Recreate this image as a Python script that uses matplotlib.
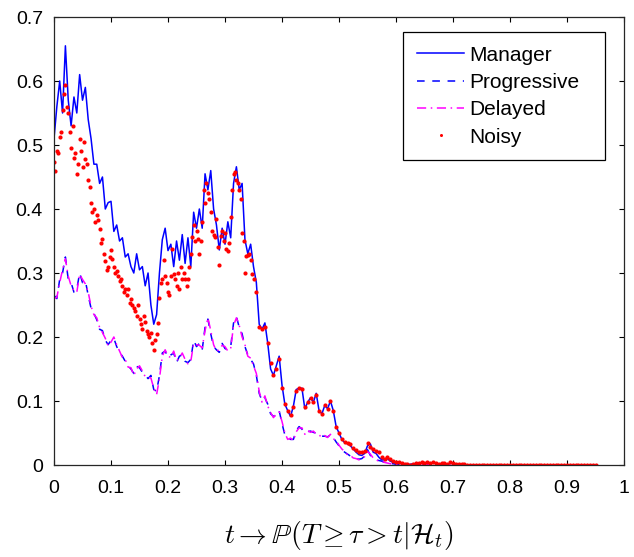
import numpy as np
import matplotlib
matplotlib.use("Agg")
import matplotlib.pyplot as plt

plt.rcParams['font.family'] = ['Liberation Sans', 'DejaVu Sans']
plt.rcParams['mathtext.fontset'] = 'cm'

# ---- data (time step 0.005 for line series) ----
dt_line = 0.005
manager = [0.51, 0.56, 0.60, 0.55, 0.655, 0.57, 0.53, 0.575, 0.55, 0.61,
           0.57, 0.59, 0.54, 0.51, 0.47, 0.47, 0.44, 0.45, 0.40, 0.41,
           0.412, 0.365, 0.375, 0.35, 0.355, 0.325, 0.33, 0.31, 0.30, 0.33,
           0.305, 0.31, 0.28, 0.30, 0.25, 0.22, 0.235, 0.30, 0.352, 0.37,
           0.335, 0.345, 0.31, 0.35, 0.32, 0.36, 0.315, 0.355, 0.31, 0.395,
           0.37, 0.40, 0.37, 0.455, 0.43, 0.46, 0.40, 0.375, 0.336, 0.37,
           0.345, 0.38, 0.355, 0.44, 0.466, 0.43, 0.44, 0.352, 0.33, 0.345,
           0.31, 0.285, 0.22, 0.212, 0.222, 0.19, 0.15, 0.14, 0.155, 0.17,
           0.125, 0.095, 0.085, 0.076, 0.092, 0.118, 0.12, 0.12, 0.088, 0.098,
           0.105, 0.098, 0.112, 0.085, 0.08, 0.093, 0.088, 0.10, 0.085, 0.06,
           0.05, 0.04, 0.035, 0.033, 0.03, 0.025, 0.02, 0.016, 0.015, 0.018,
           0.03, 0.033, 0.02, 0.018, 0.012, 0.008, 0.008, 0.01, 0.006, 0.004,
           0.003,
           0.003, 0.002, 0.002, 0.001, 0.001, 0.002, 0.002, 0.003, 0.003, 0.002,
           0.003, 0.002, 0.004, 0.002, 0.002, 0.002, 0.002, 0.001, 0.003, 0.002,
           0.001, 0.001, 0.001, 0.0, 0.0, 0.0, 0.0, 0.0, 0.0, 0.0,
           0.0, 0.0, 0.0, 0.0, 0.0, 0.0, 0.0, 0.0, 0.0, 0.0,
           0.0, 0.0, 0.0, 0.0, 0.0, 0.0, 0.0, 0.0, 0.0, 0.0,
           0.0, 0.0, 0.0, 0.0, 0.0, 0.0, 0.0, 0.0, 0.0, 0.0,
           0.0, 0.0, 0.0, 0.0, 0.0, 0.0, 0.0, 0.0, 0.0, 0.0]

progressive = [0.265, 0.26, 0.29, 0.30, 0.325, 0.29, 0.285, 0.27, 0.275, 0.30,
               0.285, 0.288, 0.265, 0.245, 0.237, 0.227, 0.212, 0.21, 0.195, 0.188,
               0.195, 0.198, 0.185, 0.176, 0.17, 0.162, 0.155, 0.15, 0.143, 0.154,
               0.152, 0.145, 0.14, 0.135, 0.14, 0.118, 0.115, 0.14, 0.175, 0.178,
               0.168, 0.172, 0.175, 0.16, 0.17, 0.172, 0.162, 0.16, 0.165, 0.195,
               0.185, 0.19, 0.18, 0.215, 0.228, 0.205, 0.185, 0.18, 0.176, 0.19,
               0.182, 0.18, 0.185, 0.222, 0.232, 0.215, 0.205, 0.185, 0.172, 0.165,
               0.158, 0.14, 0.112, 0.10, 0.105, 0.095, 0.08, 0.076, 0.077, 0.085,
               0.065, 0.047, 0.042, 0.04, 0.04, 0.054, 0.06, 0.056, 0.05, 0.052,
               0.053, 0.051, 0.05, 0.046, 0.045, 0.045, 0.044, 0.047, 0.043, 0.036,
               0.03, 0.024, 0.02, 0.017, 0.014, 0.012, 0.01, 0.009, 0.01, 0.014,
               0.024, 0.015, 0.01, 0.008, 0.007, 0.006, 0.004, 0.003, 0.002, 0.002,
               0.001,
               0.001, 0.001, 0.001, 0.0, 0.0, 0.001, 0.001, 0.001, 0.001, 0.001,
               0.001, 0.001, 0.002, 0.001, 0.001, 0.001, 0.001, 0.0, 0.001, 0.001,
               0.0, 0.0, 0.0, 0.0, 0.0, 0.0, 0.0, 0.0, 0.0, 0.0,
               0.0, 0.0, 0.0, 0.0, 0.0, 0.0, 0.0, 0.0, 0.0, 0.0,
               0.0, 0.0, 0.0, 0.0, 0.0, 0.0, 0.0, 0.0, 0.0, 0.0,
               0.0, 0.0, 0.0, 0.0, 0.0, 0.0, 0.0, 0.0, 0.0, 0.0,
               0.0, 0.0, 0.0, 0.0, 0.0, 0.0, 0.0, 0.0, 0.0, 0.0]

delayed = [0.26, 0.262, 0.285, 0.305, 0.322, 0.295, 0.28, 0.272, 0.27, 0.298,
           0.29, 0.283, 0.27, 0.248, 0.235, 0.23, 0.215, 0.207, 0.198, 0.186,
           0.192, 0.2, 0.188, 0.178, 0.168, 0.165, 0.153, 0.152, 0.14, 0.15,
           0.155, 0.147, 0.138, 0.137, 0.136, 0.12, 0.11, 0.135, 0.17, 0.18,
           0.17, 0.168, 0.178, 0.163, 0.167, 0.175, 0.165, 0.158, 0.162, 0.19,
           0.188, 0.187, 0.183, 0.21, 0.23, 0.21, 0.188, 0.178, 0.18, 0.187,
           0.185, 0.178, 0.182, 0.218, 0.23, 0.218, 0.2, 0.188, 0.17, 0.167,
           0.155, 0.143, 0.115, 0.098, 0.108, 0.092, 0.082, 0.074, 0.08, 0.083,
           0.068, 0.05, 0.04, 0.042, 0.038, 0.052, 0.058, 0.058, 0.048, 0.054,
           0.051, 0.053, 0.048, 0.047, 0.043, 0.046, 0.043, 0.048, 0.041, 0.038,
           0.031, 0.025, 0.021, 0.016, 0.015, 0.011, 0.01, 0.008, 0.011, 0.013,
           0.021, 0.017, 0.011, 0.008, 0.006, 0.006, 0.004, 0.003, 0.002, 0.001,
           0.001,
           0.001, 0.001, 0.0, 0.0, 0.0, 0.001, 0.001, 0.001, 0.001, 0.001,
           0.001, 0.001, 0.001, 0.001, 0.001, 0.001, 0.001, 0.0, 0.001, 0.001,
           0.0, 0.0, 0.0, 0.0, 0.0, 0.0, 0.0, 0.0, 0.0, 0.0,
           0.0, 0.0, 0.0, 0.0, 0.0, 0.0, 0.0, 0.0, 0.0, 0.0,
           0.0, 0.0, 0.0, 0.0, 0.0, 0.0, 0.0, 0.0, 0.0, 0.0,
           0.0, 0.0, 0.0, 0.0, 0.0, 0.0, 0.0, 0.0, 0.0, 0.0,
           0.0, 0.0, 0.0, 0.0, 0.0, 0.0, 0.0, 0.0, 0.0, 0.0]

# Noisy observations: step 0.0025 from 0 to 0.35, then step 0.005 from 0.355
dt_noisy_early = 0.0025
noisy_early = [0.474, 0.46, 0.49, 0.487, 0.513, 0.52, 0.555, 0.58, 0.593, 0.56,
               0.55, 0.52, 0.495, 0.53, 0.48, 0.487, 0.455, 0.47, 0.51, 0.49,
               0.465, 0.505, 0.478, 0.47, 0.445, 0.435, 0.41, 0.396, 0.40, 0.38,
               0.39, 0.383, 0.368, 0.347, 0.353, 0.33, 0.318, 0.305, 0.31, 0.325,
               0.336, 0.322, 0.31, 0.30, 0.303, 0.295, 0.287, 0.29, 0.28, 0.27,
               0.275, 0.265, 0.275, 0.253, 0.26, 0.25, 0.245, 0.24, 0.233, 0.25,
               0.228, 0.22, 0.213, 0.233, 0.223, 0.21, 0.205, 0.2, 0.206, 0.19,
               0.18, 0.196, 0.205, 0.222, 0.261, 0.284, 0.29, 0.32, 0.295, 0.285,
               0.27, 0.265, 0.296, 0.338, 0.298, 0.29, 0.28, 0.3, 0.275, 0.31,
               0.29, 0.30, 0.29, 0.28, 0.29, 0.31, 0.33, 0.357, 0.375, 0.35,
               0.365, 0.353, 0.33, 0.35, 0.38, 0.43, 0.41, 0.44, 0.425, 0.415,
               0.395, 0.365, 0.36, 0.357, 0.385, 0.34, 0.313, 0.358, 0.365, 0.35,
               0.362, 0.337, 0.335, 0.347, 0.387, 0.43, 0.455, 0.458, 0.445, 0.44,
               0.43, 0.415, 0.362, 0.35, 0.30, 0.326, 0.328, 0.33, 0.32, 0.298,
               0.29]
noisy_late_start = 0.355
dt_noisy_late = 0.005
noisy_late = [0.27, 0.215, 0.212, 0.215, 0.19, 0.16, 0.14, 0.15, 0.165,
              0.12, 0.095, 0.085, 0.078, 0.09, 0.115, 0.12, 0.118, 0.09, 0.098,
              0.105, 0.098, 0.11, 0.085, 0.08, 0.093, 0.088, 0.10, 0.085, 0.06,
              0.05, 0.04, 0.036, 0.035, 0.033, 0.027, 0.024, 0.02, 0.02, 0.022,
              0.035, 0.028, 0.025, 0.022, 0.02, 0.012, 0.01, 0.012, 0.01, 0.006,
              0.005, 0.004, 0.003, 0.002, 0.001, 0.0, 0.002, 0.003, 0.003, 0.004,
              0.003, 0.004, 0.003, 0.005, 0.003, 0.002, 0.003, 0.003, 0.002, 0.004,
              0.003, 0.002, 0.002, 0.001, 0.001, 0.0, 0.0, 0.0, 0.0, 0.0,
              0.0, 0.0, 0.0, 0.0, 0.0, 0.0, 0.0, 0.0, 0.0, 0.0,
              0.0, 0.0, 0.0, 0.0, 0.0, 0.0, 0.0, 0.0, 0.0, 0.0,
              0.0, 0.0, 0.0, 0.0, 0.0, 0.0, 0.0, 0.0, 0.0, 0.0,
              0.0, 0.0, 0.0, 0.0, 0.0, 0.0, 0.0, 0.0, 0.0, 0.0,
              0.0]

labels = ["Manager", "Progressive", "Delayed", "Noisy"]
xticks = [0, 0.1, 0.2, 0.3, 0.4, 0.5, 0.6, 0.7, 0.8, 0.9, 1]
xticklabels = ["0", "0.1", "0.2", "0.3", "0.4", "0.5", "0.6", "0.7", "0.8", "0.9", "1"]
yticks = [0, 0.1, 0.2, 0.3, 0.4, 0.5, 0.6, 0.7]
yticklabels = ["0", "0.1", "0.2", "0.3", "0.4", "0.5", "0.6", "0.7"]
xlabel = r"$t \rightarrow \mathbb{P}(T \geq \tau > t|\mathcal{H}_t)$"

# ---- figure ----
fig = plt.figure(figsize=(6.34, 5.57), dpi=100)
ax = fig.add_axes([54/634, 1-465/557, 570/634, 448/557])

ax.plot(np.arange(len(manager)) * dt_line, manager, color='#0000ff', lw=1.1,
        label=labels[0])
ax.plot(np.arange(len(progressive)) * dt_line, progressive, color='#0000ff', lw=1.1,
        ls=(0, (5, 5)), label=labels[1])
ax.plot(np.arange(len(delayed)) * dt_line, delayed, color='#ff00ff', lw=1.1,
        ls=(0, (6, 3, 1, 3)), label=labels[2])
t_noisy = np.concatenate([np.arange(len(noisy_early)) * dt_noisy_early,
                          noisy_late_start + np.arange(len(noisy_late)) * dt_noisy_late])
noisy = np.concatenate([noisy_early, noisy_late])
ax.plot(t_noisy, noisy, ls='none', marker='o', markersize=3.0, color='#ff0000',
        markeredgewidth=0, label=labels[3])

ax.set_xlim(0, 1)
ax.set_ylim(0, 0.7)
ax.set_xticks(xticks)
ax.set_xticklabels(xticklabels)
ax.set_yticks(yticks)
ax.set_yticklabels(yticklabels)
ax.tick_params(direction='in', length=3.5, width=0.8, top=True, right=True,
               labelsize=14, colors='black')
ax.tick_params(axis='x', pad=11)
ax.tick_params(axis='y', pad=8)
for s in ax.spines.values():
    s.set_color('#262626')
    s.set_linewidth(0.9)

ax.set_xlabel(xlabel, fontsize=20, labelpad=16)

x0 = (403 - 54) / 570
x1 = (605 - 54) / 570
y1 = (465 - 32) / 448
y0 = (465 - 160) / 448
leg = ax.legend(loc='upper left', bbox_to_anchor=(x0, y0, x1 - x0, y1 - y0),
                mode='expand', borderaxespad=0, fontsize=15, frameon=True,
                fancybox=False, edgecolor='black', framealpha=1,
                handlelength=2.3, labelspacing=0.4, handletextpad=0.25,
                borderpad=0.65)
leg.get_frame().set_linewidth(0.9)
leg.legend_handles[3].set_markersize(2.2)

fig.savefig("out.png", dpi=100)
